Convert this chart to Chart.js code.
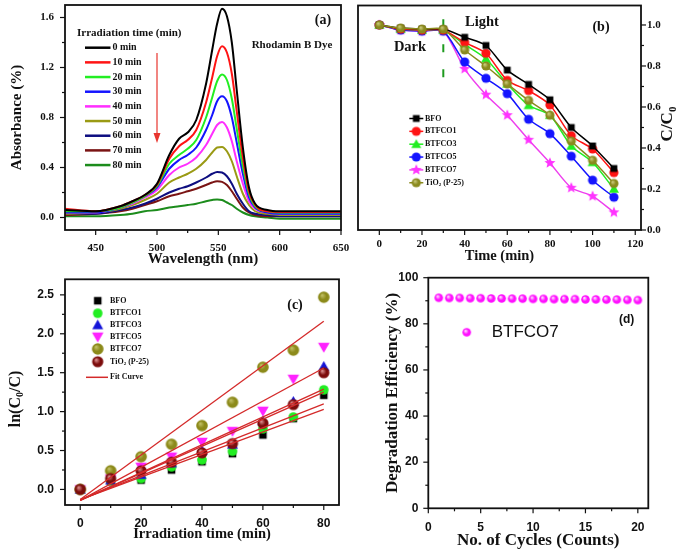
<!DOCTYPE html>
<html>
<head>
<meta charset="utf-8">
<script src="https://cdn.jsdelivr.net/npm/chart.js@4.4.1/dist/chart.umd.min.js"></script>
<style>
  html, body { margin: 0; padding: 0; background: #fff; }
  #wrap { position: relative; width: 685px; height: 557px; overflow: hidden; }
  #wrap > div { position: absolute; }
</style>
</head>
<body>
<div id="wrap">
  <div style="left:0;top:0;width:352px;height:268px"><canvas id="chartA"></canvas></div>
  <div style="left:345px;top:0;width:340px;height:268px"><canvas id="chartB"></canvas></div>
  <div style="left:0;top:272px;width:345px;height:285px"><canvas id="chartC"></canvas></div>
  <div style="left:345px;top:272px;width:340px;height:285px"><canvas id="chartD"></canvas></div>
</div>
<script>
// ---------- DATA ----------
// (a) UV-vis spectra
const wavelengths = [425, 450, 470, 480, 490, 500, 510, 518, 525, 532, 540, 545, 549, 553, 557, 561, 565, 570, 575, 580, 590, 600, 625, 650];
const spectraLabels = ['0 min', '10 min', '20 min', '30 min', '40 min', '50 min', '60 min', '70 min', '80 min'];
const abs0  = [0.06, 0.05, 0.09, 0.13, 0.18, 0.27, 0.50, 0.63, 0.68, 0.78, 1.07, 1.34, 1.55, 1.67, 1.61, 1.40, 1.02, 0.56, 0.24, 0.11, 0.06, 0.05, 0.05, 0.05];
const abs10 = [0.07, 0.05, 0.09, 0.13, 0.18, 0.26, 0.47, 0.57, 0.62, 0.70, 0.92, 1.12, 1.29, 1.37, 1.32, 1.15, 0.85, 0.48, 0.21, 0.10, 0.05, 0.045, 0.045, 0.045];
const abs20 = [0.05, 0.05, 0.08, 0.12, 0.17, 0.25, 0.43, 0.50, 0.55, 0.62, 0.80, 0.96, 1.09, 1.145, 1.10, 0.95, 0.71, 0.41, 0.19, 0.09, 0.05, 0.04, 0.04, 0.04];
const abs30 = [0.04, 0.04, 0.08, 0.12, 0.17, 0.24, 0.39, 0.46, 0.50, 0.56, 0.70, 0.82, 0.93, 0.97, 0.93, 0.80, 0.60, 0.35, 0.16, 0.08, 0.04, 0.03, 0.03, 0.03];
const abs40 = [0.04, 0.04, 0.08, 0.11, 0.16, 0.22, 0.34, 0.40, 0.43, 0.48, 0.58, 0.67, 0.74, 0.765, 0.72, 0.61, 0.45, 0.27, 0.13, 0.07, 0.04, 0.03, 0.03, 0.03];
const abs50 = [0.03, 0.04, 0.07, 0.10, 0.14, 0.19, 0.28, 0.32, 0.35, 0.39, 0.46, 0.52, 0.56, 0.565, 0.53, 0.45, 0.33, 0.19, 0.10, 0.05, 0.03, 0.02, 0.02, 0.02];
const abs60 = [0.03, 0.03, 0.06, 0.08, 0.11, 0.15, 0.20, 0.23, 0.25, 0.28, 0.32, 0.35, 0.365, 0.36, 0.33, 0.27, 0.19, 0.11, 0.05, 0.03, 0.02, 0.01, 0.01, 0.01];
const abs70 = [0.02, 0.03, 0.05, 0.07, 0.10, 0.13, 0.17, 0.19, 0.21, 0.23, 0.26, 0.28, 0.29, 0.285, 0.26, 0.21, 0.15, 0.08, 0.04, 0.02, 0.01, 0.01, 0.01, 0.01];
const abs80 = [0.01, 0.01, 0.02, 0.03, 0.05, 0.06, 0.08, 0.09, 0.10, 0.11, 0.13, 0.14, 0.145, 0.14, 0.12, 0.10, 0.07, 0.04, 0.02, 0.01, 0.0, -0.01, -0.01, -0.01];
const aXMajor = [450, 500, 550, 600, 650];
const aXMinor = [475, 525, 575, 625];
const aYMajor = [0, 0.4, 0.8, 1.2, 1.6];
const aYMinor = [0.2, 0.6, 1.0, 1.4];

// (b) C/C0 vs time
const timeB = [0, 10, 20, 30, 40, 50, 60, 70, 80, 90, 100, 110];
const sampleNames = ['BFO', 'BTFCO1', 'BTFCO3', 'BTFCO5', 'BTFCO7', 'TiO2 (P-25)'];
const bfoB    = [1.0, 0.985, 0.98, 0.98, 0.94, 0.90, 0.78, 0.71, 0.635, 0.50, 0.41, 0.30];
const btfco1B = [1.0, 0.98, 0.975, 0.975, 0.915, 0.862, 0.73, 0.68, 0.61, 0.46, 0.395, 0.28];
const btfco3B = [1.0, 0.98, 0.975, 0.975, 0.905, 0.835, 0.713, 0.608, 0.56, 0.41, 0.33, 0.20];
const btfco5B = [1.0, 0.975, 0.97, 0.97, 0.82, 0.74, 0.665, 0.54, 0.47, 0.36, 0.243, 0.16];
const btfco7B = [1.0, 0.975, 0.97, 0.97, 0.786, 0.66, 0.56, 0.44, 0.327, 0.206, 0.165, 0.086];
const tio2B   = [1.0, 0.985, 0.98, 0.98, 0.878, 0.80, 0.713, 0.632, 0.56, 0.434, 0.34, 0.227];
const lightOnTime = 30;
const lightMarkSpan = [0.745, 1.08];
const bXMajor = [0, 20, 40, 60, 80, 100, 120];
const bXMinor = [10, 30, 50, 70, 90, 110];
const bYMajor = [0, 0.2, 0.4, 0.6, 0.8, 1.0];
const bYMinor = [0.1, 0.3, 0.5, 0.7, 0.9];

// (c) ln(C0/C) vs irradiation time
const timeC = [0, 10, 20, 30, 40, 50, 60, 70, 80];
const bfoC    = [0, 0.10, 0.12, 0.25, 0.355, 0.46, 0.70, 0.91, 1.21];
const btfco1C = [0, 0.11, 0.14, 0.29, 0.38, 0.49, 0.78, 0.93, 1.28];
const btfco3C = [0, 0.12, 0.19, 0.34, 0.50, 0.58, 0.88, 1.13, 1.58];
const btfco5C = [0, 0.14, 0.29, 0.42, 0.61, 0.75, 1.01, 1.42, 1.83];
const btfco7C = [0, 0.24, 0.42, 0.58, 0.82, 1.12, 1.57, 1.79, 2.47];
const tio2C   = [0, 0.14, 0.24, 0.35, 0.47, 0.59, 0.85, 1.09, 1.50];
const fitTimes = [0, 80];
const fitStart = [-0.13, -0.13, -0.14, -0.14, -0.13, -0.14];
const fitEnd   = [1.03, 1.10, 1.29, 1.56, 2.16, 1.25];
const cXMajor = [0, 20, 40, 60, 80];
const cXMinor = [10, 30, 50, 70];
const cYMajor = [0, 0.5, 1.0, 1.5, 2.0, 2.5];
const cYMinor = [0.25, 0.75, 1.25, 1.75, 2.25];

// (d) cycling stability
const cycles = [1, 2, 3, 4, 5, 6, 7, 8, 9, 10, 11, 12, 13, 14, 15, 16, 17, 18, 19, 20];
const efficiency = [91.3, 91.2, 91.2, 91.1, 91.1, 91.0, 91.0, 90.9, 90.9, 90.8, 90.8, 90.7, 90.7, 90.7, 90.6, 90.6, 90.5, 90.5, 90.4, 90.3];
const dXMajor = [0, 5, 10, 15, 20];
const dXMinor = [2.5, 7.5, 12.5, 17.5];
const dYMajor = [0, 20, 40, 60, 80, 100];
const dYMinor = [10, 30, 50, 70, 90];

// ---------- HELPERS ----------
const SERIF = '"Liberation Serif", "Times New Roman", serif';
const SANS = '"Liberation Sans", Arial, sans-serif';
Chart.defaults.font.family = SERIF;
Chart.defaults.color = '#111';

function makeMarker(shape, color, r, shade) {
  const s = Math.ceil(r * 2 + 4);
  const c = document.createElement('canvas');
  c.width = c.height = s;
  const g = c.getContext('2d');
  const m = s / 2;
  g.beginPath();
  if (shape === 'square') {
    g.rect(m - r * 0.9, m - r * 0.9, r * 1.8, r * 1.8);
  } else if (shape === 'triangle') {
    g.moveTo(m, m - r); g.lineTo(m + r, m + r * 0.75); g.lineTo(m - r, m + r * 0.75);
  } else if (shape === 'triangleDown') {
    g.moveTo(m, m + r); g.lineTo(m + r, m - r * 0.75); g.lineTo(m - r, m - r * 0.75);
  } else if (shape === 'star') {
    for (let i = 0; i < 10; i++) {
      const a = -Math.PI / 2 + i * Math.PI / 5;
      const rr = i % 2 ? r * 0.45 : r;
      g.lineTo(m + rr * Math.cos(a), m + rr * Math.sin(a));
    }
  } else {
    g.arc(m, m, r, 0, Math.PI * 2);
  }
  g.closePath();
  if (shade) {
    const grd = g.createRadialGradient(m - r * 0.3, m - r * 0.35, r * 0.1, m, m, r);
    grd.addColorStop(0, shade);
    grd.addColorStop(0.55, color);
    grd.addColorStop(1, color);
    g.fillStyle = grd;
  } else {
    g.fillStyle = color;
  }
  g.fill();
  return c;
}

function xy(xs, ys) { return ys.map((v, i) => ({ x: xs[i], y: v })); }

function axis(o) {
  return {
    type: 'linear',
    position: o.pos,
    min: o.min, max: o.max,
    grid: { display: false, drawTicks: false },
    border: { display: false },
    afterBuildTicks: s => { s.ticks = o.major.map(v => ({ value: v })); },
    afterFit: s => {
      if (s.isHorizontal()) s.height = o.size; else s.width = o.size;
      s.paddingLeft = s.paddingRight = s.paddingTop = s.paddingBottom = 0;
    },
    ticks: { autoSkip: false, maxRotation: 0, padding: o.pad, color: '#111', font: o.font, callback: o.fmt },
    title: o.title
      ? { display: true, text: o.title, color: '#111', font: o.titleFont, padding: o.titlePad }
      : { display: false }
  };
}

function drawParts(ctx, parts, x, y, font, align, rot) {
  ctx.save();
  ctx.translate(x, y);
  if (rot) ctx.rotate(rot * Math.PI / 180);
  const mainF = `${font.weight} ${font.size}px ${font.family}`;
  const subF = `${font.weight} ${Math.round(font.size * 0.62)}px ${font.family}`;
  let w = 0;
  parts.forEach(p => { ctx.font = p.sub ? subF : mainF; w += ctx.measureText(p.t).width; });
  let cx = align === 'center' ? -w / 2 : (align === 'right' ? -w : 0);
  ctx.textBaseline = 'middle';
  ctx.textAlign = 'left';
  ctx.fillStyle = font.color || '#111';
  parts.forEach(p => {
    ctx.font = p.sub ? subF : mainF;
    ctx.fillText(p.t, cx, p.sub ? font.size * 0.3 : 0);
    cx += ctx.measureText(p.t).width;
  });
  ctx.restore();
}

// box round the plot and outward tick marks
const frame = {
  id: 'frame',
  afterDraw(chart, args, opts) {
    const { ctx, chartArea: a } = chart;
    ctx.save();
    ctx.strokeStyle = '#111';
    ctx.lineWidth = 1.2;
    (opts.marks || []).forEach(mk => {
      const sc = chart.scales[mk.scale];
      const draw = (v, len) => {
        const p = sc.getPixelForValue(v);
        ctx.beginPath();
        if (sc.position === 'bottom') { ctx.moveTo(p, a.bottom); ctx.lineTo(p, a.bottom + len); }
        else if (sc.position === 'left') { ctx.moveTo(a.left, p); ctx.lineTo(a.left - len, p); }
        else { ctx.moveTo(a.right, p); ctx.lineTo(a.right + len, p); }
        ctx.stroke();
      };
      mk.major.forEach(v => draw(v, 5));
      mk.minor.forEach(v => draw(v, 3));
    });
    ctx.lineWidth = 1.8;
    ctx.strokeRect(a.left, a.top, a.right - a.left, a.bottom - a.top);
    ctx.restore();
  }
};

// free text, legends, arrows
const notes = {
  id: 'notes',
  afterDraw(chart, args, opts) {
    const ctx = chart.ctx;
    (opts.items || []).forEach(it => {
      ctx.save();
      if (it.line) {
        ctx.strokeStyle = it.line.color;
        ctx.lineWidth = it.line.width;
        ctx.beginPath(); ctx.moveTo(it.line.x1, it.y); ctx.lineTo(it.line.x2, it.y); ctx.stroke();
      }
      if (it.marker) ctx.drawImage(it.marker, it.mx - it.marker.width / 2, it.y - it.marker.height / 2);
      if (it.arrow) {
        const ar = it.arrow;
        ctx.strokeStyle = ar.color; ctx.fillStyle = ar.color; ctx.lineWidth = 1.2;
        ctx.beginPath(); ctx.moveTo(ar.x, ar.y1); ctx.lineTo(ar.x, ar.y2 - 8); ctx.stroke();
        ctx.beginPath(); ctx.moveTo(ar.x - 3.5, ar.y2 - 10); ctx.lineTo(ar.x + 3.5, ar.y2 - 10); ctx.lineTo(ar.x, ar.y2); ctx.closePath(); ctx.fill();
      }
      if (it.parts) drawParts(ctx, it.parts, it.x, it.y, it.font, it.align || 'left', it.rot);
      ctx.restore();
    });
  }
};

const base = {
  responsive: true,
  maintainAspectRatio: false,
  animation: false,
  events: [],
  plugins: { legend: { display: false }, tooltip: { enabled: false } }
};

const tickSerif = { family: SERIF, size: 11, weight: 'bold' };
const tickSans = { family: SANS, size: 12, weight: 'bold' };
const f1 = v => v.toFixed(1);
const f0 = v => String(v);

// ---------- (a) ----------
const spectra = [abs0, abs10, abs20, abs30, abs40, abs50, abs60, abs70, abs80];
const spectraColors = ['#000000', '#ff1414', '#22ee22', '#1414ff', '#ff2eff', '#9a9a14', '#0e0e80', '#7a1414', '#1c8c1c'];
const legendFontA = { family: SERIF, size: 10, weight: 'bold' };
const notesA = [
  { parts: [{ t: '(a)' }], x: 323, y: 20, font: { family: SERIF, size: 14, weight: 'bold' }, align: 'center' },
  { parts: [{ t: 'Rhodamin B Dye' }], x: 292, y: 45, font: { family: SERIF, size: 11, weight: 'bold' }, align: 'center' },
  { parts: [{ t: 'Irradiation time (min)' }], x: 77, y: 33, font: { family: SERIF, size: 11, weight: 'bold' } },
  { arrow: { x: 157, y1: 53, y2: 143, color: '#e8352e' } }
];
spectraLabels.forEach((lab, i) => {
  const y = 47.7 + i * 14.67;
  notesA.push({ y, line: { x1: 85, x2: 110.5, color: spectraColors[i], width: 2.5 } });
  notesA.push({ parts: [{ t: lab }], x: 112.5, y, font: legendFontA });
});

new Chart(document.getElementById('chartA'), {
  type: 'line',
  data: {
    datasets: spectra.map((s, i) => ({
      label: spectraLabels[i],
      data: xy(wavelengths, s),
      borderColor: spectraColors[i],
      borderWidth: 2,
      pointRadius: 0,
      cubicInterpolationMode: 'monotone'
    }))
  },
  options: {
    ...base,
    layout: { padding: { left: 0, top: 5, right: 11, bottom: 0 } },
    plugins: {
      ...base.plugins,
      frame: { marks: [{ scale: 'x', major: aXMajor, minor: aXMinor }, { scale: 'y', major: aYMajor, minor: aYMinor }] },
      notes: { items: notesA }
    },
    scales: {
      x: axis({ pos: 'bottom', min: 425, max: 650, major: aXMajor, size: 38, pad: 12, font: tickSerif, fmt: f0,
        title: 'Wavelength (nm)', titleFont: { family: SERIF, size: 15, weight: 'bold' }, titlePad: { top: 0, bottom: 0 } }),
      y: axis({ pos: 'left', min: -0.1, max: 1.7, major: aYMajor, size: 65, pad: 11, font: tickSerif, fmt: f1,
        title: 'Absorbance (%)', titleFont: { family: SERIF, size: 15, weight: 'bold' }, titlePad: { top: 8, bottom: 0 } })
    }
  },
  plugins: [frame, notes]
});

// ---------- (b) ----------
const seriesB = [bfoB, btfco1B, btfco3B, btfco5B, btfco7B, tio2B];
const colorsB = ['#000000', '#ff1414', '#22ee22', '#1414ff', '#ee40ee', '#8a8a1e'];
const markersB = [
  makeMarker('square', '#000000', 3.8),
  makeMarker('circle', '#ff1414', 4.6),
  makeMarker('triangle', '#22ee22', 5),
  makeMarker('circle', '#1414ff', 4.6),
  makeMarker('star', '#ff33ff', 5.8),
  makeMarker('circle', '#8a8a1e', 4.6, '#c8c878')
];
const orderB = [1, 2, 3, 4, 5, 0];
const legendFontB = { family: SERIF, size: 8, weight: 'bold' };
const notesB = [
  { parts: [{ t: '(b)' }], x: 256, y: 27, font: { family: SERIF, size: 14, weight: 'bold' }, align: 'center' },
  { parts: [{ t: 'Light' }], x: 137, y: 22.5, font: { family: SERIF, size: 14.5, weight: 'bold' }, align: 'center' },
  { parts: [{ t: 'Dark' }], x: 65, y: 47.5, font: { family: SERIF, size: 14.5, weight: 'bold' }, align: 'center' },
  { parts: [{ t: 'C/C' }, { t: '0', sub: true }], x: 323, y: 124, font: { family: SERIF, size: 17, weight: 'bold' }, align: 'center', rot: -90 }
];
sampleNames.forEach((name, i) => {
  const y = 118.5 + i * 12.85;
  notesB.push({ y, line: { x1: 64.3, x2: 78.3, color: colorsB[i], width: 1.5 }, marker: markersB[i], mx: 71.3 });
  const parts = name === 'TiO2 (P-25)' ? [{ t: 'TiO' }, { t: '2', sub: true }, { t: ' (P-25)' }] : [{ t: name }];
  notesB.push({ parts, x: 80, y, font: legendFontB });
});

new Chart(document.getElementById('chartB'), {
  type: 'line',
  data: {
    datasets: seriesB.map((s, i) => ({
      label: sampleNames[i],
      data: xy(timeB, s),
      borderColor: colorsB[i],
      borderWidth: 1.5,
      tension: 0.25,
      pointStyle: markersB[i],
      pointRadius: 4,
      order: orderB[i]
    })).concat([{
      label: 'light on',
      data: lightMarkSpan.map(v => ({ x: lightOnTime, y: v })),
      borderColor: '#1e9a1e',
      borderWidth: 2,
      borderDash: [8, 17],
      pointRadius: 0,
      order: 9
    }])
  },
  options: {
    ...base,
    layout: { padding: { left: 13, top: 5, right: 0, bottom: 0 } },
    plugins: {
      ...base.plugins,
      frame: { marks: [{ scale: 'x', major: bXMajor, minor: bXMinor }, { scale: 'y', major: bYMajor, minor: bYMinor }] },
      notes: { items: notesB }
    },
    scales: {
      x: axis({ pos: 'bottom', min: -10, max: 122.7, major: bXMajor, size: 38, pad: 8, font: tickSerif, fmt: f0,
        title: 'Time (min)', titleFont: { family: SERIF, size: 14.5, weight: 'bold' }, titlePad: { top: 0, bottom: 3 } }),
      y: axis({ pos: 'right', min: 0, max: 1.095, major: bYMajor, size: 44, pad: 6, font: tickSerif, fmt: f1 })
    }
  },
  plugins: [frame, notes]
});

// ---------- (c) ----------
const seriesC = [bfoC, btfco1C, btfco3C, btfco5C, btfco7C, tio2C];
const markersC = [
  makeMarker('square', '#000000', 4.2),
  makeMarker('circle', '#22ee22', 4.8),
  makeMarker('triangle', '#1414d8', 5.5),
  makeMarker('triangleDown', '#ff22ff', 5.8),
  makeMarker('circle', '#8c8a1a', 5.8, '#bebc60'),
  makeMarker('circle', '#7c0c0c', 5.6, '#d88888')
];
const orderC = [6, 5, 4, 3, 2, 1];
const fitColor = '#d42a2a';
const legendFontC = { family: SERIF, size: 8, weight: 'bold' };
const notesC = [
  { parts: [{ t: '(c)' }], x: 295, y: 33, font: { family: SERIF, size: 14, weight: 'bold' }, align: 'center' },
  { parts: [{ t: 'ln(C' }, { t: '0', sub: true }, { t: '/C)' }], x: 16, y: 127, font: { family: SERIF, size: 16, weight: 'bold' }, align: 'center', rot: -90 }
];
const legendRowsC = [28.7, 41.3, 53, 64.7, 77, 89.7];
sampleNames.forEach((name, i) => {
  notesC.push({ y: legendRowsC[i], marker: markersC[i], mx: 97.7 });
  const parts = name === 'TiO2 (P-25)' ? [{ t: 'TiO' }, { t: '2', sub: true }, { t: ' (P-25)' }] : [{ t: name }];
  notesC.push({ parts, x: 110, y: legendRowsC[i], font: legendFontC });
});
notesC.push({ y: 105.3, line: { x1: 86, x2: 108, color: fitColor, width: 1.5 } });
notesC.push({ parts: [{ t: 'Fit Curve' }], x: 110, y: 105.3, font: legendFontC });

new Chart(document.getElementById('chartC'), {
  type: 'line',
  data: {
    datasets: seriesC.map((s, i) => ({
      label: sampleNames[i],
      data: xy(timeC, s),
      showLine: false,
      pointStyle: markersC[i],
      pointRadius: 5,
      order: orderC[i]
    })).concat(fitEnd.map((e, i) => ({
      label: 'fit ' + sampleNames[i],
      data: xy(fitTimes, [fitStart[i], e]),
      borderColor: fitColor,
      borderWidth: 1.3,
      pointRadius: 0,
      order: -1
    })))
  },
  options: {
    ...base,
    layout: { padding: { left: 0, top: 7.3, right: 3, bottom: 13.6 } },
    plugins: {
      ...base.plugins,
      frame: { marks: [{ scale: 'x', major: cXMajor, minor: cXMinor }, { scale: 'y', major: cYMajor, minor: cYMinor }] },
      notes: { items: notesC }
    },
    scales: {
      x: axis({ pos: 'bottom', min: -5, max: 85, major: cXMajor, size: 38.4, pad: 11, font: tickSans, fmt: f0,
        title: 'Irradiation time (min)', titleFont: { family: SERIF, size: 14.5, weight: 'bold' }, titlePad: { top: 0, bottom: 0 } }),
      y: axis({ pos: 'left', min: -0.2, max: 2.7, major: cYMajor, size: 65, pad: 11, font: tickSans, fmt: f1 })
    }
  },
  plugins: [frame, notes]
});

// ---------- (d) ----------
const sphereD = makeMarker('circle', '#ff10ff', 4.3, '#ffd8ff');
const notesD = [
  { parts: [{ t: '(d)' }], x: 281.7, y: 48, font: { family: SANS, size: 12, weight: 'bold' }, align: 'center' },
  { y: 60.3, marker: sphereD, mx: 121.7 },
  { parts: [{ t: 'BTFCO7' }], x: 146.7, y: 60.3, font: { family: SANS, size: 17, weight: 'normal' } }
];

new Chart(document.getElementById('chartD'), {
  type: 'line',
  data: {
    datasets: [{
      label: 'BTFCO7',
      data: xy(cycles, efficiency),
      showLine: false,
      pointStyle: sphereD,
      pointRadius: 4
    }]
  },
  options: {
    ...base,
    layout: { padding: { left: 37, top: 5.7, right: 36.7, bottom: 5.7 } },
    plugins: {
      ...base.plugins,
      frame: { marks: [{ scale: 'x', major: dXMajor, minor: dXMinor }, { scale: 'y', major: dYMajor, minor: dYMinor }] },
      notes: { items: notesD }
    },
    scales: {
      x: axis({ pos: 'bottom', min: 0, max: 21, major: dXMajor, size: 43, pad: 12, font: { family: SANS, size: 12, weight: 'bold' }, fmt: f0,
        title: 'No. of Cycles (Counts)', titleFont: { family: SERIF, size: 17, weight: 'bold' }, titlePad: { top: 0, bottom: 0 } }),
      y: axis({ pos: 'left', min: 0, max: 100, major: dYMajor, size: 46.3, pad: 10, font: { family: SANS, size: 12, weight: 'bold' }, fmt: f0,
        title: 'Degradation Efficiency (%)', titleFont: { family: SERIF, size: 17, weight: 'bold' }, titlePad: { top: 0, bottom: 0 } })
    }
  },
  plugins: [frame, notes]
});
</script>
</body>
</html>
